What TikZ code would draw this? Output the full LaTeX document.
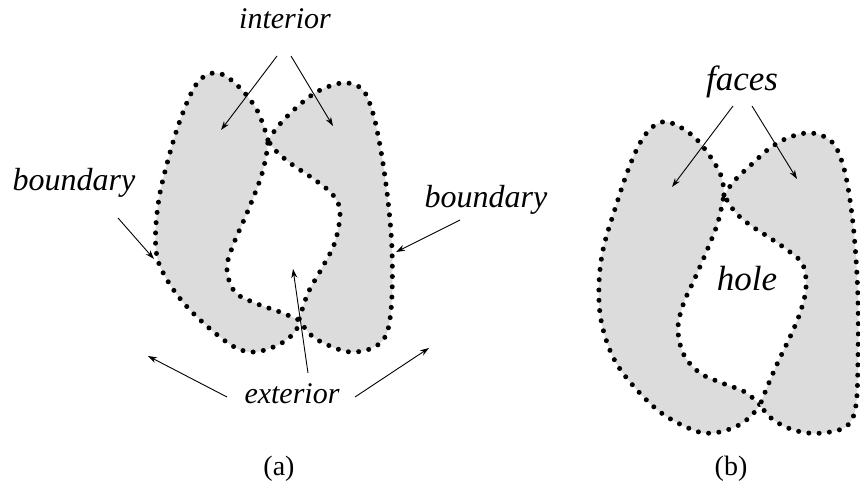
\documentclass[tikz,border=0pt]{standalone}
\usepackage{fontspec}
\setmainfont{Liberation Serif}
\usetikzlibrary{arrows.meta}
\definecolor{blobgray}{RGB}{220,220,220}
\tikzset{
  blob/.style={fill=blobgray, draw=black, line width=5pt, line cap=round, dash pattern=on 0pt off 10.3pt},
  lbl/.style={anchor=base, inner sep=0pt, font=\fontsize{30}{34}\selectfont\itshape},
  bndlbl/.style={anchor=base, inner sep=0pt, font=\fontsize{32}{36}\selectfont\itshape},
  biglbl/.style={anchor=base, inner sep=0pt, font=\fontsize{35}{38}\selectfont\itshape},
  captionlbl/.style={anchor=base, inner sep=0pt, font=\fontsize{28}{30}\selectfont},
  arr/.style={line width=0.9pt, -{Stealth[length=9pt,width=6pt]}}
}
\begin{document}
\begin{tikzpicture}[x=1pt,y=-1pt]
\useasboundingbox (0,0) rectangle (860,482);
\clip (0,0) rectangle (860,482);

% ---- (a) left blob
\path[blob] plot[smooth, tension=0.6] coordinates {(268,140) (257,110) (237,85) (217,73) (198,82) (182,115) (168,160) (158,205) (156,250) (166,278) (190,310) (228,343) (252,352) (278,345) (295,332) (299,320)}
  -- plot[smooth, tension=0.6] coordinates {(299,320) (280,312) (255,303) (235,292) (227,270) (232,248) (247,213) (260,180) (266,157) (268,140)} -- cycle;
% ---- (a) right blob
\path[blob] plot[smooth, tension=0.6] coordinates {(268,140) (280,124) (297,107) (315,93) (333,85) (348,83) (363,90) (372,110) (378,135) (384,170) (389,210) (392,250) (392,295) (389,325) (383,340) (370,349) (350,352) (330,346) (312,336) (299,320)}
  -- plot[smooth, tension=0.6] coordinates {(299,320) (308,293) (322,268) (335,242) (340,212) (333,195) (315,180) (290,163) (275,150) (268,140)} -- cycle;

% ---- (b) left blob
\path[blob] plot[smooth, tension=0.6] coordinates {(724,195) (720,173) (700,143) (680,127) (662,122) (645,135) (630,165) (614,212) (603,250) (599,285) (601,320) (612,355) (630,382) (660,412) (693,430) (713,433) (735,427) (750,417) (760,405)}
  -- plot[smooth, tension=0.6] coordinates {(760,405) (745,392) (722,383) (700,373) (684,355) (678,330) (683,305) (695,278) (708,248) (718,222) (724,195)} -- cycle;
% ---- (b) right blob
\path[blob] plot[smooth, tension=0.6] coordinates {(724,195) (735,180) (752,164) (770,148) (790,137) (812,133) (832,142) (843,165) (850,200) (855,245) (858,300) (858,360) (856,405) (848,425) (830,432) (808,433) (788,428) (771,418) (760,405)}
  -- plot[smooth, tension=0.6] coordinates {(760,405) (768,385) (778,362) (790,337) (800,313) (806,288) (803,265) (790,252) (770,238) (750,225) (735,212) (724,195)} -- cycle;

% ---- labels
\node[lbl] (interior) at (285,28) {interior};
\node[bndlbl] (bndL) at (74,190) {boundary};
\node[bndlbl] (bndR) at (486,207) {boundary};
\node[lbl] (exterior) at (292,403) {exterior};
\node[biglbl] (faces) at (742,90) {faces};
\node[biglbl] (hole) at (747,290) {hole};
\node[captionlbl] (capa) at (279,475) {(a)};
\node[captionlbl] (capb) at (731,475) {(b)};

% ---- arrow coordinates
\coordinate (i1s) at (277,56);  \coordinate (i1e) at (221,130);
\coordinate (i2s) at (291,56);  \coordinate (i2e) at (333,126);
\coordinate (bls) at (118,218); \coordinate (ble) at (154,259);
\coordinate (brs) at (460,220); \coordinate (bre) at (396,252);
\coordinate (e1s) at (227,397); \coordinate (e1e) at (148,356);
\coordinate (e2s) at (355,397); \coordinate (e2e) at (429,348);
\coordinate (e3s) at (308,373); \coordinate (e3e) at (293,269);
\coordinate (f1s) at (733,106); \coordinate (f1e) at (672,187);
\coordinate (f2s) at (752,106); \coordinate (f2e) at (797,179);

\draw[arr] (i1s) -- (i1e);
\draw[arr] (i2s) -- (i2e);
\draw[arr] (bls) -- (ble);
\draw[arr] (brs) -- (bre);
\draw[arr] (e1s) -- (e1e);
\draw[arr] (e2s) -- (e2e);
\draw[arr] (e3s) -- (e3e);
\draw[arr] (f1s) -- (f1e);
\draw[arr] (f2s) -- (f2e);
\end{tikzpicture}
\end{document}
